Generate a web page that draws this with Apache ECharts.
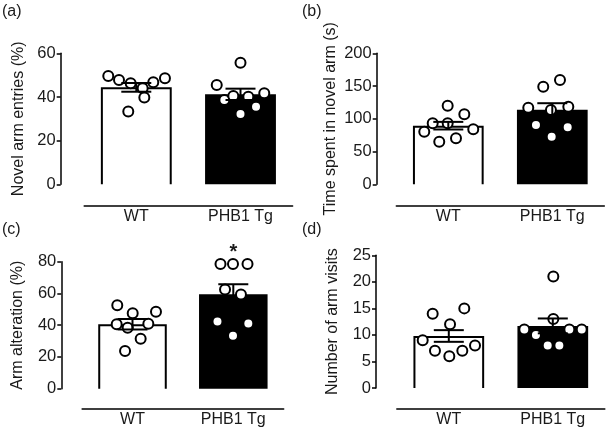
<!DOCTYPE html>
<html>
<head>
<meta charset="utf-8">
<script src="https://cdn.jsdelivr.net/npm/echarts@6/dist/echarts.min.js"></script>
<style>
html, body { margin: 0; padding: 0; background: #fff; }
#main { width: 608px; height: 432px; }
</style>
</head>
<body>
<div id="main"></div>
<script>
var groups = ['WT', 'PHB1 Tg'];

// (a) novel arm entries, points are [x jitter, value]
var entriesMean = [44.4, 41.2];
var entriesSem = [2.0, 2.6];
var entriesWT = [[-0.269, 49.6], [-0.166, 47.8], [-0.054, 46.3], [0.061, 44.0], [0.077, 39.8], [0.163, 46.7], [0.275, 48.6], [-0.077, 33.3]];
var entriesTg = [[-0.228, 45.5], [-0.155, 38.6], [-0.069, 40.4], [0, 55.7], [0.075, 40.1], [0.149, 35.5], [0.228, 41.7], [0, 32.2]];

// (b) time in novel arm
var timeMean = [89.5, 113.8];
var timeSem = [5.8, 10];
var timeWT = [[-0.006, 120], [0.154, 106.9], [-0.15, 93.1], [-0.006, 93.1], [-0.231, 80.2], [0.24, 83.9], [0.074, 70.2], [-0.087, 65]];
var timeTg = [[-0.087, 149], [0.074, 159.2], [-0.231, 116.9], [-0.013, 113.4], [0.154, 118.5], [-0.157, 90.5], [0.148, 87], [-0.006, 72.7]];

// (c) arm alteration
var altMean = [40.6, 59.5];
var altSem = [3.3, 6.3];
var altWT = [[-0.151, 52.5], [0.002, 47.5], [0.233, 48.5], [-0.157, 40.6], [-0.048, 38.4], [0.157, 40.9], [0.081, 31.5], [-0.074, 23.7]];
var altTg = [[-0.127, 78.5], [-0.003, 78.5], [0.141, 78.5], [-0.082, 62.5], [0.076, 59.3], [-0.157, 42.3], [0.149, 41.1], [-0.003, 33.4]];
var altStar = [1, 85.5, '*'];

// (d) arm visits
var visitsMean = [9.8, 11.7];
var visitsSem = [1.1, 1.4];
var visitsWT = [[-0.155, 14], [0.149, 15], [0.012, 12], [-0.251, 9], [-0.133, 7], [0.005, 6], [0.13, 7], [0.252, 8]];
var visitsTg = [[0.005, 21], [0.005, 13], [-0.274, 11], [-0.162, 10], [0.159, 11], [0.278, 11], [-0.049, 8], [0.063, 8]];

var panels = [
  { tag: '(a)', name: 'Novel arm entries (%)', mean: entriesMean, sem: entriesSem, pts: [entriesWT, entriesTg], max: 60, step: 20,
    left: 84.2, top: 53.3, width: 208.4, height: 131, yOff: 23.5, xOff: 21.7, nameGap: 34, tagX: 2, tagY: 4 },
  { tag: '(b)', name: 'Time spent in novel arm (s)', mean: timeMean, sem: timeSem, pts: [timeWT, timeTg], max: 200, step: 50,
    left: 396.3, top: 53.3, width: 208, height: 131, yOff: 19.6, xOff: 21.7, nameGap: 38, tagX: 302, tagY: 4 },
  { tag: '(c)', name: 'Arm alteration (%)', mean: altMean, sem: altSem, pts: [altWT, altTg], max: 80, step: 20,
    left: 82.1, top: 261.7, width: 201.6, height: 127, yOff: 20.8, xOff: 20, nameGap: 36, tagX: 2, tagY: 222 },
  { tag: '(d)', name: 'Number of arm visits', mean: visitsMean, sem: visitsSem, pts: [visitsWT, visitsTg], max: 25, step: 5,
    left: 396.8, top: 255.3, width: 208, height: 132.7, yOff: 20.8, xOff: 20.3, nameGap: 35, tagX: 302, tagY: 222 }
];

var txt = '#1a1a1a';
var font = 'Liberation Sans, Arial, sans-serif';

function barItem(params, api) {
  var i = api.value(0);
  var top = api.coord([i, api.value(1)]);
  var bot = api.coord([i, 0]);
  var w = api.size([1, 0])[0] * 0.68;
  var x0 = top[0] - w / 2, x1 = top[0] + w / 2;
  if (i === 0) {
    return { type: 'group', children: [
      { type: 'rect', shape: { x: x0, y: top[1], width: w, height: bot[1] - top[1] }, style: { fill: '#fff' } },
      { type: 'polyline', shape: { points: [[x0 + 1, bot[1]], [x0 + 1, top[1] + 1], [x1 - 1, top[1] + 1], [x1 - 1, bot[1]]] },
        style: { stroke: '#000', lineWidth: 2, fill: null } }
    ] };
  }
  return { type: 'rect', shape: { x: x0, y: top[1], width: w, height: bot[1] - top[1] }, style: { fill: '#000' } };
}

function errItem(params, api) {
  var i = api.value(0), m = api.value(1), s = api.value(2);
  var hi = api.coord([i, m + s]);
  var lo = api.coord([i, m - s]);
  var c = 15;
  var st = { stroke: '#000', lineWidth: 2 };
  return { type: 'group', children: [
    { type: 'line', shape: { x1: hi[0], y1: hi[1], x2: lo[0], y2: lo[1] }, style: st },
    { type: 'line', shape: { x1: hi[0] - c, y1: hi[1], x2: hi[0] + c, y2: hi[1] }, style: st },
    { type: 'line', shape: { x1: lo[0] - c, y1: lo[1], x2: lo[0] + c, y2: lo[1] }, style: st }
  ] };
}

function starItem(params, api) {
  var pt = api.coord([api.value(0), api.value(1)]);
  return { type: 'text', x: pt[0], y: pt[1],
    style: { text: altStar[2], fill: txt, font: 'bold 20px ' + font, align: 'center', verticalAlign: 'middle' } };
}

var option = { animation: false, grid: [], xAxis: [], yAxis: [], series: [], graphic: [] };

panels.forEach(function (p, g) {
  option.grid.push({ left: p.left, top: p.top, width: p.width, height: p.height });
  option.xAxis.push({
    type: 'category', gridIndex: g, data: groups, offset: p.xOff,
    axisLine: { show: true, onZero: false, lineStyle: { color: '#000', width: 1.5 } },
    axisTick: { show: false },
    axisLabel: { color: txt, fontSize: 16, fontFamily: font, margin: 3 }
  });
  option.xAxis.push({ type: 'value', gridIndex: g, min: 0, max: 2, show: false });
  option.yAxis.push({
    type: 'value', gridIndex: g, min: 0, max: p.max, interval: p.step, offset: p.yOff,
    name: p.name, nameLocation: 'middle', nameGap: p.nameGap,
    nameTextStyle: { color: txt, fontSize: 16, fontFamily: font },
    axisLine: { show: true, onZero: false, lineStyle: { color: '#000', width: 1.5 } },
    axisTick: { show: true, inside: false, length: 4, lineStyle: { width: 1.5 } },
    axisLabel: { color: txt, fontSize: 16.5, fontFamily: font, margin: 5 },
    splitLine: { show: false }
  });
  option.series.push({
    type: 'custom', xAxisIndex: g * 2, yAxisIndex: g, z: 1,
    renderItem: barItem, encode: { x: 0, y: 1 },
    data: p.mean.map(function (m, i) { return [i, m]; })
  });
  p.pts.forEach(function (set, i) {
    option.series.push({
      type: 'scatter', xAxisIndex: g * 2 + 1, yAxisIndex: g, z: 2,
      symbol: 'circle', symbolSize: 10,
      itemStyle: { color: '#fff', borderColor: '#000', borderWidth: 2, opacity: 1 },
      data: set.map(function (d) { return [i + 0.5 + d[0], d[1]]; })
    });
  });
  option.series.push({
    type: 'custom', xAxisIndex: g * 2, yAxisIndex: g, z: 3,
    renderItem: errItem, encode: { x: 0, y: [1, 2] },
    data: p.mean.map(function (m, i) { return [i, m, p.sem[i]]; })
  });
  option.graphic.push({
    type: 'text', left: p.tagX, top: p.tagY,
    style: { text: p.tag, fill: txt, font: '16px ' + font }
  });
});

// significance star on panel (c)
option.series.push({
  type: 'custom', xAxisIndex: 4, yAxisIndex: 2, z: 4,
  renderItem: starItem, encode: { x: 0, y: 1 },
  data: [[altStar[0], altStar[1]]]
});

var myChart = echarts.init(document.getElementById('main'));
myChart.setOption(option);
</script>
</body>
</html>
